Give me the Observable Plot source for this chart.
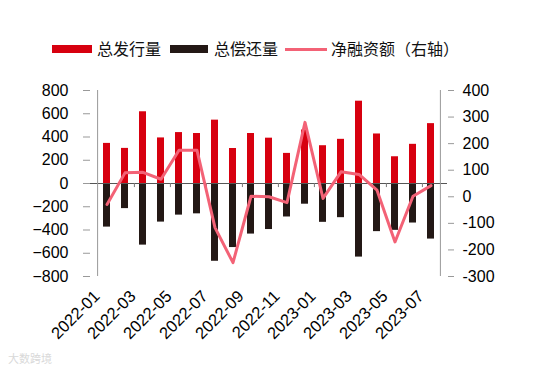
<!DOCTYPE html>
<html><head><meta charset="utf-8">
<script src="https://cdn.jsdelivr.net/npm/d3@7"></script>
<script src="https://cdn.jsdelivr.net/npm/@observablehq/plot@0.6"></script>
<style>
body{margin:0;background:#fff;font-family:"Liberation Sans",Arial,sans-serif;}
#wrap{position:relative;width:554px;height:377px;overflow:hidden;background:#fff}
#legend{position:relative;height:70px;font-family:"Noto Sans CJK SC",sans-serif;font-size:16px;color:#111}
.sw{position:absolute}
.lt{position:absolute;top:38px;line-height:20px;white-space:nowrap}
#wm{position:absolute;left:8px;top:350px;font-family:"Noto Sans CJK SC",sans-serif;font-size:11px;color:#d9d9d9}
</style></head><body>
<div id="wrap">
<div id="legend"></div>
<div id="chart"></div>
<div id="wm">大数跨境</div>
</div>
<script>
const months = ["2022-01","2022-02","2022-03","2022-04","2022-05","2022-06","2022-07","2022-08","2022-09","2022-10","2022-11","2022-12","2023-01","2023-02","2023-03","2023-04","2023-05","2023-06","2023-07"];
const issuance = [345, 302, 617, 392, 438, 430, 545, 301, 430, 390, 259, 460, 325, 380, 708, 426, 230, 337, 515];
const repayment = [-375, -216, -530, -332, -272, -261, -669, -551, -435, -396, -288, -178, -334, -294, -633, -414, -403, -340, -478];
const netFinancing = [-29, 90, 92, 66, 175, 175, -116, -248, 2, 0, -22, 280, -6, 94, 84, 25, -170, 2, 42];
const leftTicks = [-800, -600, -400, -200, 0, 200, 400, 600, 800];
const rightTicks = [-300, -200, -100, 0, 100, 200, 300, 400];
const labelMonths = months.filter((m, i) => i % 2 === 0);
const boundaryMonths = months.filter((m, i) => i % 2 === 1);
const seriesNames = ["总发行量", "总偿还量", "净融资额（右轴）"];
const colors = ["#d7000f", "#231815", "#f36276"];

// legend
const legend = document.getElementById("legend");
const legendLayout = [
  {swLeft: 52, swW: 40, swTop: 45, swH: 8, textLeft: 97},
  {swLeft: 170, swW: 38, swTop: 45, swH: 8, textLeft: 214},
  {swLeft: 285, swW: 42, swTop: 47.5, swH: 3, textLeft: 331}
];
seriesNames.forEach((name, i) => {
  const L = legendLayout[i];
  const sw = document.createElement("div");
  sw.className = "sw";
  sw.style.cssText = `left:${L.swLeft}px;top:${L.swTop}px;width:${L.swW}px;height:${L.swH}px;background:${colors[i]}`;
  legend.appendChild(sw);
  const t = document.createElement("div");
  t.className = "lt";
  t.style.left = L.textLeft + "px";
  t.textContent = name;
  legend.appendChild(t);
});

const W = 554, H = 307, mL = 90, mR = 107, mT = 20, mB = 101;
const step = (W - mL - mR) / months.length;
const [lMin, lMax] = [-800, 800];
const [rMin, rMax] = [-300, 400];
const toLeft = v => lMin + (v - rMin) / (rMax - rMin) * (lMax - lMin);

const issueData = months.map((m, i) => ({m, v: issuance[i]}));
const repayData = months.map((m, i) => ({m, v: repayment[i]}));
const netData = months.map((m, i) => ({m, v: netFinancing[i]}));

const chart = Plot.plot({
  width: W, height: H,
  marginTop: mT, marginBottom: mB, marginLeft: mL, marginRight: mR,
  style: {fontFamily: "'Liberation Sans', Arial, sans-serif", fontSize: "16px", color: "#000", background: "transparent", overflow: "visible"},
  x: {type: "band", domain: months, paddingInner: 0.61, paddingOuter: 0.305, label: null},
  y: {domain: [lMin, lMax], label: null},
  marks: [
    Plot.barY(issueData, {x: "m", y: "v", fill: colors[0]}),
    Plot.barY(repayData, {x: "m", y: "v", fill: colors[1]}),
    Plot.ruleY([0], {stroke: "#555", strokeWidth: 1}),
    Plot.ruleX(boundaryMonths, {x: d => d, y1: 0, y2: -35, dx: step / 2, stroke: "#777"}),
    Plot.ruleX([months[0]], {x: d => d, y1: lMin, y2: lMax, dx: -step / 2, stroke: "#999"}),
    Plot.ruleX([months[months.length - 1]], {x: d => d, y1: lMin, y2: lMax, dx: step / 2, stroke: "#999"}),
    Plot.line(netData, {x: "m", y: d => toLeft(d.v), stroke: colors[2], strokeWidth: 3, strokeLinejoin: "round"}),
    Plot.axisY({anchor: "left", ticks: leftTicks, tickSize: 7, tickPadding: 15, stroke: "#999", fill: "#000", label: null}),
    Plot.axisY(rightTicks.map(toLeft), {anchor: "right", tickFormat: (d, i) => String(rightTicks[i]), tickSize: 6, tickPadding: 9, stroke: "#999", fill: "#000", label: null}),
    Plot.axisX(labelMonths, {anchor: "bottom", tickRotate: -45, tickSize: 0, tickPadding: 17, dx: -10, fill: "#000", fontSize: 16.5, label: null})
  ]
});
document.getElementById("chart").appendChild(chart);
</script>
</body></html>
